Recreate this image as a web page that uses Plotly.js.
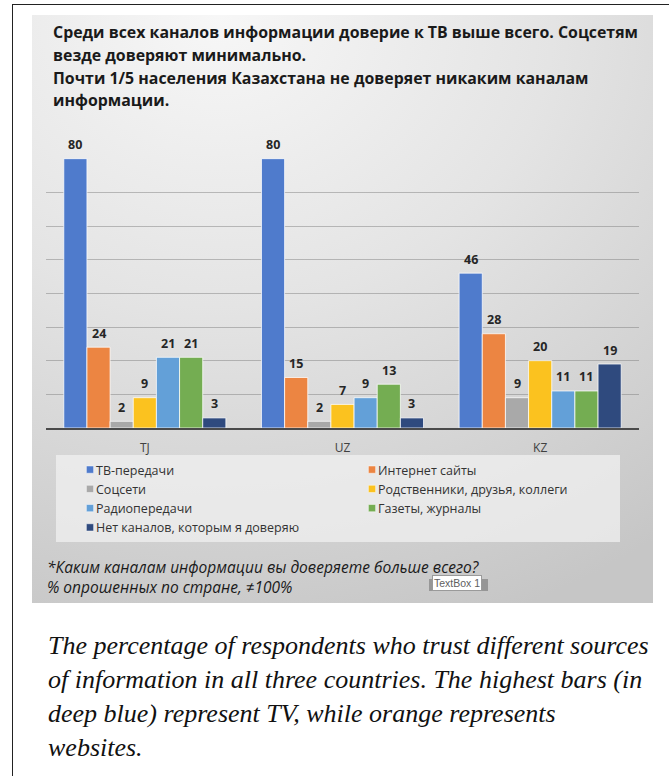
<!DOCTYPE html>
<html>
<head>
<meta charset="utf-8">
<script src="https://cdn.plot.ly/plotly-3.0.1.min.js"></script>
<style>
  html, body { margin: 0; padding: 0; background: #ffffff; }
  #frame { position: absolute; left: 12px; top: 4px; width: 680px; height: 800px;
           border-left: 1.5px solid #222; border-top: 1.5px solid #222; }
  #panel { position: absolute; left: 32px; top: 15px; width: 621px; height: 588px;
           background: radial-gradient(ellipse 120% 110% at 30% 0%, #f7f7f7 0%, #e4e4e4 45%, #c6c6c6 100%); }
  #chart { position: absolute; left: 0; top: 0; width: 669px; height: 776px; }
  #chart .legend .legendpoints path { transform: translate(34px, 0px) scale(0.6); }
</style>
</head>
<body>
<div id="frame"></div>
<div id="panel"></div>
<div id="chart"></div>
<script>
// ---- data ----
const categories = ['TJ', 'UZ', 'KZ'];
const seriesNames = ['ТВ-передачи', 'Интернет сайты', 'Соцсети', 'Родственники, друзья, коллеги',
                     'Радиопередачи', 'Газеты, журналы', 'Нет каналов, которым я доверяю'];
const tvValues         = [80, 80, 46];
const internetValues   = [24, 15, 28];
const socialValues     = [2, 2, 9];
const relativesValues  = [9, 7, 20];
const radioValues      = [21, 9, 11];
const newspaperValues  = [21, 13, 11];
const noneValues       = [3, 3, 19];
const seriesValues = [tvValues, internetValues, socialValues, relativesValues,
                      radioValues, newspaperValues, noneValues];
const seriesColors = ['#4f7bcc', '#ec8542', '#a9a9a9', '#fbc21f', '#63a0d8', '#74ad52', '#2f4a7e'];

const titleLines = [
  'Среди всех каналов информации доверие к ТВ выше всего. Соцсетям',
  'везде доверяют минимально.',
  'Почти 1/5 населения Казахстана не доверяет никаким каналам',
  'информации.'
];
const footnoteLines = [
  '*Каким каналам информации вы доверяете больше всего?',
  '% опрошенных по стране, ≠100%'
];
const captionLines = [
  'The percentage of respondents who trust different sources',
  'of information in all three countries. The highest bars (in',
  'deep blue) represent TV, while orange represents',
  'websites.'
];

// ---- geometry helpers (layout only) ----
const W = 669, H = 776;
const M = { l: 46, r: 30, t: 158, b: 348 };
const PW = W - M.l - M.r, PH = H - M.t - M.b;
const px = x => (x - M.l) / PW;
const py = y => (H - M.b - y) / PH;
const BARGAP = 0.18;

const traces = seriesNames.map((name, j) => ({
  type: 'bar',
  name: name,
  x: categories,
  y: seriesValues[j],
  marker: { color: seriesColors[j], line: { color: 'rgba(255,255,255,0.75)', width: 1 } },
  hoverinfo: 'x+y+name'
}));

const annotations = [];
// value labels above bars, positioned from the data
const nS = seriesNames.length;
const bw = (1 - BARGAP) / nS;
seriesValues.forEach((vals, j) => {
  vals.forEach((v, i) => {
    annotations.push({
      x: i - (1 - BARGAP) / 2 + (j + 0.5) * bw, y: v, xref: 'x', yref: 'y',
      text: '<b>' + v + '</b>', showarrow: false, yanchor: 'middle', yshift: 14,
      font: { family: 'Open Sans', size: 12.5, color: '#262626' }
    });
  });
});
// title lines
const titleY = [32, 55, 78, 100];
titleLines.forEach((t, k) => annotations.push({
  xref: 'paper', yref: 'paper', x: px(51), y: py(titleY[k]), xanchor: 'left', yanchor: 'middle',
  text: '<b>' + t + '</b>', showarrow: false,
  font: { family: 'Open Sans', size: 15.9, color: '#1a1a1a' }
}));
// footnote (two lines in one text box)
annotations.push({
  xref: 'paper', yref: 'paper', x: px(45), y: py(577), xanchor: 'left', yanchor: 'middle', align: 'left',
  text: '<i>' + footnoteLines.join('<br>') + '</i>', showarrow: false,
  font: { family: 'Open Sans', size: 15.5, color: '#1a1a1a', style: 'italic' }
});
// TextBox 1 label
annotations.push({
  xref: 'paper', yref: 'paper', x: px(456.5), y: py(583), xanchor: 'center', yanchor: 'middle',
  text: 'TextBox 1', showarrow: false, bgcolor: '#ffffff', bordercolor: '#9a9a9a', borderwidth: 1,
  borderpad: 1, font: { family: 'Liberation Sans Narrow, Liberation Sans', size: 10.5, color: '#606060' }
});
// caption
const capY = [645, 679, 713, 747];
captionLines.forEach((t, k) => annotations.push({
  xref: 'paper', yref: 'paper', x: px(46), y: py(capY[k]), xanchor: 'left', yanchor: 'middle',
  text: '<i>' + t + '</i>', showarrow: false,
  font: { family: 'Liberation Serif', size: 26, color: '#111111', style: 'italic' }
}));

const shapes = [
  // shadow of the TextBox label
  { type: 'rect', xref: 'paper', yref: 'paper', x0: px(429), x1: px(488), y0: py(591), y1: py(579),
    fillcolor: 'rgba(0,0,0,0.25)', line: { width: 0 }, layer: 'above' }
];

const layout = {
  width: W, height: H,
  margin: M,
  paper_bgcolor: 'rgba(0,0,0,0)',
  plot_bgcolor: 'rgba(0,0,0,0)',
  barmode: 'group',
  bargap: BARGAP,
  bargroupgap: 0,
  showlegend: true,
  legend: {
    orientation: 'h', x: px(56), y: py(455), xanchor: 'left', yanchor: 'top',
    entrywidth: 237, entrywidthmode: 'pixels', traceorder: 'normal',
    bgcolor: 'rgba(240,240,240,0.75)', borderwidth: 0,
    font: { family: 'Open Sans', size: 12.5, color: '#333333' },
    itemclick: false
  },
  xaxis: {
    type: 'category', showgrid: false, showline: true, linecolor: '#4a4a4a', linewidth: 2,
    ticks: '', tickfont: { family: 'Open Sans', size: 12, color: '#404040' }, ticklabelstandoff: 8,
    fixedrange: true
  },
  yaxis: {
    range: [0, 80.2], dtick: 10, tick0: 0, showticklabels: false, ticks: '',
    showgrid: true, gridcolor: 'rgba(120,120,120,0.45)', gridwidth: 1, zeroline: false,
    fixedrange: true
  },
  annotations: annotations,
  shapes: shapes
};

Plotly.newPlot('chart', traces, layout, { displayModeBar: false, staticPlot: true });
</script>
</body>
</html>
